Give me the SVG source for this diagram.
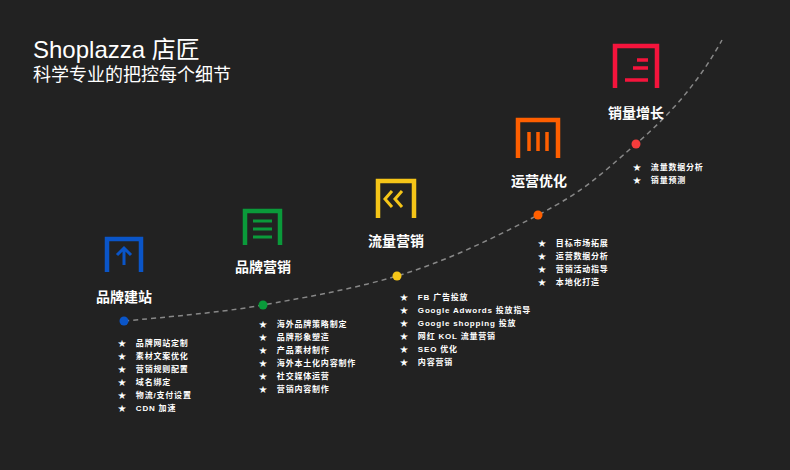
<svg xmlns="http://www.w3.org/2000/svg" width="790" height="470" viewBox="0 0 790 470">
<style>
.t{font-family:"Liberation Sans","Noto Sans CJK SC",sans-serif;fill:#fff}
.h{font-size:14px;font-weight:bold;text-anchor:middle}
.l{font-size:8px;font-weight:bold;letter-spacing:0.8px;white-space:pre}
.f{fill:none;stroke-width:4.5}
</style>
<rect width="790" height="470" fill="#222"/>
<text class="t" x="33" y="58" font-size="24">Shoplazza 店匠</text>
<text class="t" x="33" y="81" font-size="18">科学专业的把控每个细节</text>
<g id="connectors">
<path d="M124,321 C190,315 230,311 263,305 S350,290 397,276 S490,240 538,215 S600,175 636,144 S700,80 722,40" fill="none" stroke="#888" stroke-width="1.5" stroke-dasharray="5,4"/>
</g>
<g id="n1">
<path class="f" d="M107,272 V239 H141 V272" stroke="#0a55c8"/>
<path d="M124,265 V248 M117,255 L124,248 L131,255" fill="none" stroke="#0a55c8" stroke-width="3"/>
<text class="t h" x="124" y="302">品牌建站</text>
<circle cx="124" cy="321" r="4.5" fill="#0a55c8"/>
<text class="t l" x="118" y="346">★   品牌网站定制</text>
<text class="t l" x="118" y="359">★   素材文案优化</text>
<text class="t l" x="118" y="372">★   营销规则配置</text>
<text class="t l" x="118" y="385">★   域名绑定</text>
<text class="t l" x="118" y="398">★   物流/支付设置</text>
<text class="t l" x="118" y="411">★   CDN 加速</text>
</g>
<g id="n2">
<path class="f" d="M245,245 V211 H280 V245" stroke="#0a9a3a"/>
<path d="M253,221 H272 M253,229 H272 M253,237 H272" stroke="#0a9a3a" stroke-width="3"/>
<text class="t h" x="263" y="272">品牌营销</text>
<circle cx="263" cy="305" r="4.5" fill="#0a9a3a"/>
<text class="t l" x="259" y="327">★   海外品牌策略制定</text>
<text class="t l" x="259" y="340">★   品牌形象塑造</text>
<text class="t l" x="259" y="353">★   产品素材制作</text>
<text class="t l" x="259" y="366">★   海外本土化内容制作</text>
<text class="t l" x="259" y="379">★   社交媒体运营</text>
<text class="t l" x="259" y="392">★   营销内容制作</text>
</g>
<g id="n3">
<path class="f" d="M378,218 V181 H414 V218" stroke="#f5c518"/>
<path d="M392,191 L385,199 L392,207 M402,191 L395,199 L402,207" fill="none" stroke="#f5c518" stroke-width="3"/>
<text class="t h" x="396" y="246">流量营销</text>
<circle cx="397" cy="276" r="4.5" fill="#f5c518"/>
<text class="t l" x="400" y="300">★   FB 广告投放</text>
<text class="t l" x="400" y="313">★   Google Adwords 投放指导</text>
<text class="t l" x="400" y="326">★   Google shopping 投放</text>
<text class="t l" x="400" y="339">★   网红 KOL 流量营销</text>
<text class="t l" x="400" y="352">★   SEO 优化</text>
<text class="t l" x="400" y="365">★   内容营销</text>
</g>
<g id="n4">
<path class="f" d="M518,158 V120 H558 V158" stroke="#ff5f00"/>
<path d="M529,132 V151 M538,132 V151 M547,132 V151" stroke="#ff5f00" stroke-width="3.5"/>
<text class="t h" x="539" y="186">运营优化</text>
<circle cx="538" cy="215" r="4.5" fill="#ff5f00"/>
<text class="t l" x="538" y="246">★   目标市场拓展</text>
<text class="t l" x="538" y="259">★   运营数据分析</text>
<text class="t l" x="538" y="272">★   营销活动指导</text>
<text class="t l" x="538" y="285">★   本地化打造</text>
</g>
<g id="n5">
<path class="f" d="M615,88 V46 H657 V88" stroke="#f5143c"/>
<path d="M637,60 H648 M633,68 H648 M625,80 H648" stroke="#f5143c" stroke-width="3.5"/>
<text class="t h" x="636" y="118">销量增长</text>
<circle cx="636" cy="144" r="4.5" fill="#f53c3c"/>
<text class="t l" x="633" y="170">★   流量数据分析</text>
<text class="t l" x="633" y="183">★   销量预测</text>
</g>
</svg>
